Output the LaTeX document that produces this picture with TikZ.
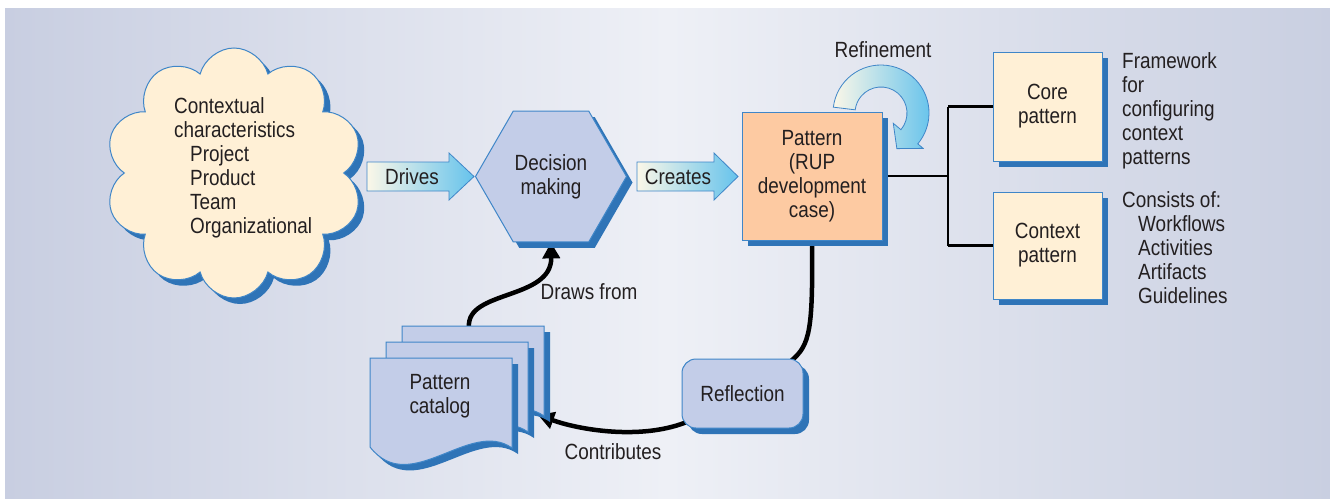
\documentclass[tikz,border=0pt]{standalone}
\usepackage{fontspec}
\setmainfont{Liberation Sans}[FakeStretch=0.86]
\usetikzlibrary{shapes.geometric,shapes.symbols,shadows,arrows.meta,calc}
\definecolor{bgL}{HTML}{C8CEE1}
\definecolor{bgM}{HTML}{EEF0F6}
\definecolor{bgR}{HTML}{C9CFE1}
\definecolor{shblue}{HTML}{2F74B7}
\definecolor{edge}{HTML}{3F86C8}
\definecolor{nblue}{HTML}{C3CDE8}
\definecolor{cream}{HTML}{FFF0D6}
\definecolor{peach}{HTML}{FDCAA2}
\definecolor{txt}{HTML}{231F20}
\definecolor{acream}{HTML}{FBF7E8}
\definecolor{ablue}{HTML}{66C3EC}
\newcommand\dgf{\fontsize{22}{24}\selectfont}
\pgfdeclarelayer{background}
\pgfsetlayers{background,main}
\tikzset{
  shad/.style={drop shadow={shadow xshift=6pt,shadow yshift=-6pt,opacity=1,fill=shblue}},
  lbl/.style={text=txt,font=\dgf,inner sep=0pt},
  boxnode/.style={lbl,rectangle,draw=edge,line width=1pt,shad,align=center},
  flow/.style={line width=4.5pt,draw=black},
  flowarr/.style={flow,-{Triangle[length=16pt,width=17pt]}},
  tree/.style={line width=2.5pt,draw=black},
  blockarr/.style={left color=acream,right color=ablue,draw=edge,line width=0.8pt},
}
\begin{document}
\begin{tikzpicture}[x=1pt,y=-1pt]
\useasboundingbox (0,0) rectangle (1330,498);
\begin{pgfonlayer}{background}
\fill[white] (0,0) rectangle (1330,498);
\shade[left color=bgL,right color=bgR,middle color=bgM] (5,8) rectangle (1330,498);
\end{pgfonlayer}

% cloud
\node[cloud,cloud puffs=10,cloud puff arc=150,aspect=1.03,minimum width=258,minimum height=250,
      fill=cream,draw=edge,line width=1pt,shad] (ctx) at (234,173) {};
\node[lbl,align=left,anchor=north west] (ctxt) at (174,97)
  {Contextual\\characteristics\\\hspace*{16pt}Project\\\hspace*{16pt}Product\\\hspace*{16pt}Team\\\hspace*{16pt}Organizational};

% block arrows
\shadedraw[blockarr] (367,162) -- (449,162) -- (449,153) -- (474,176.5) -- (449,200) -- (449,191) -- (367,191) -- cycle;
\node[lbl] (drv) at (412,177) {Drives};
\shadedraw[blockarr] (637,162) -- (714,162) -- (714,153) -- (738,176.5) -- (714,200) -- (714,191) -- (637,191) -- cycle;
\node[lbl] (crt) at (678,177) {Creates};

% hexagon
\node[lbl,regular polygon,regular polygon sides=6,minimum size=151,fill=nblue,draw=edge,line width=1pt,shad,align=center]
  (hex) at (551,176.5) {Decision\\making};

% pattern box
\node[boxnode,fill=peach,minimum width=140,minimum height=128] (pat) at (812,176) {Pattern\\(RUP\\development\\case)};

% refinement arrow
\shadedraw[blockarr]
  ($(881,113)+(-173:48)$) arc[start angle=-173,end angle=40,radius=48]
  -- ($(881,113)+(40:55)$) -- ($(881,113)+(66:39)$) -- ($(881,113)+(40:16)$)
  -- ($(881,113)+(40:26)$) arc[start angle=40,end angle=-173,radius=26] -- cycle;
\node[lbl] (ref) at (883,50) {Refinement};

% core and context
\node[boxnode,fill=cream,minimum width=109,minimum height=109] (core) at (1047.5,106.5) {Core\\pattern};
\node[boxnode,fill=cream,minimum width=109,minimum height=107] (ctxp) at (1047.5,245.5) {Context\\pattern};
\node[lbl,align=left,anchor=north west] (fw) at (1122,52) {Framework\\for\\configuring\\context\\patterns};
\node[lbl,align=left,anchor=north west] (cons) at (1122,191)
  {Consists of:\\\hspace*{16pt}Workflows\\\hspace*{16pt}Activities\\\hspace*{16pt}Artifacts\\\hspace*{16pt}Guidelines};

% reflection
\node[boxnode,rounded corners=14pt,fill=nblue,minimum width=121,minimum height=69] (refl) at (742.5,393.5) {Reflection};

% pattern catalog sheets
\foreach \sx/\sy in {402/326,386/342,370/358}{
  \begin{scope}[shift={(\sx,\sy)}]
    \fill[shblue] (6,6) -- (148,6) -- (148,96) .. controls (106,66) and (46,146) .. (6,95) -- cycle;
    \filldraw[fill=nblue,draw=edge,line width=1pt] (0,0) -- (142,0) -- (142,90) .. controls (100,60) and (40,140) .. (0,89) -- cycle;
  \end{scope}
}
\node[lbl,align=center] (cat) at (440,396) {Pattern\\catalog};
\coordinate (catTop) at (469,327);
\coordinate (catIn) at (538,415);
\coordinate (br) at (948,176);

\node[lbl] (dfl) at (589,292) {Draws from};
\node[lbl] (cfl) at (613,452) {Contributes};

\begin{pgfonlayer}{background}
\draw[flowarr] (catTop) .. controls (466,290) and (552,300) .. (hex.south);
\draw[flowarr] ($(refl.south west)+(4,-6)$) .. controls (640,440) and (580,430) .. (catIn);
\draw[flow] (pat.south) .. controls (813,330) and (810,345) .. ($(refl.north east)+(-12,2)$);
\draw[tree] (pat.east) -- (br);
\draw[tree] (br |- core.west) -- (br |- ctxp.west);
\draw[tree] (br |- core.west) -- (core.west);
\draw[tree] (br |- ctxp.west) -- (ctxp.west);
\end{pgfonlayer}
\end{tikzpicture}
\end{document}
